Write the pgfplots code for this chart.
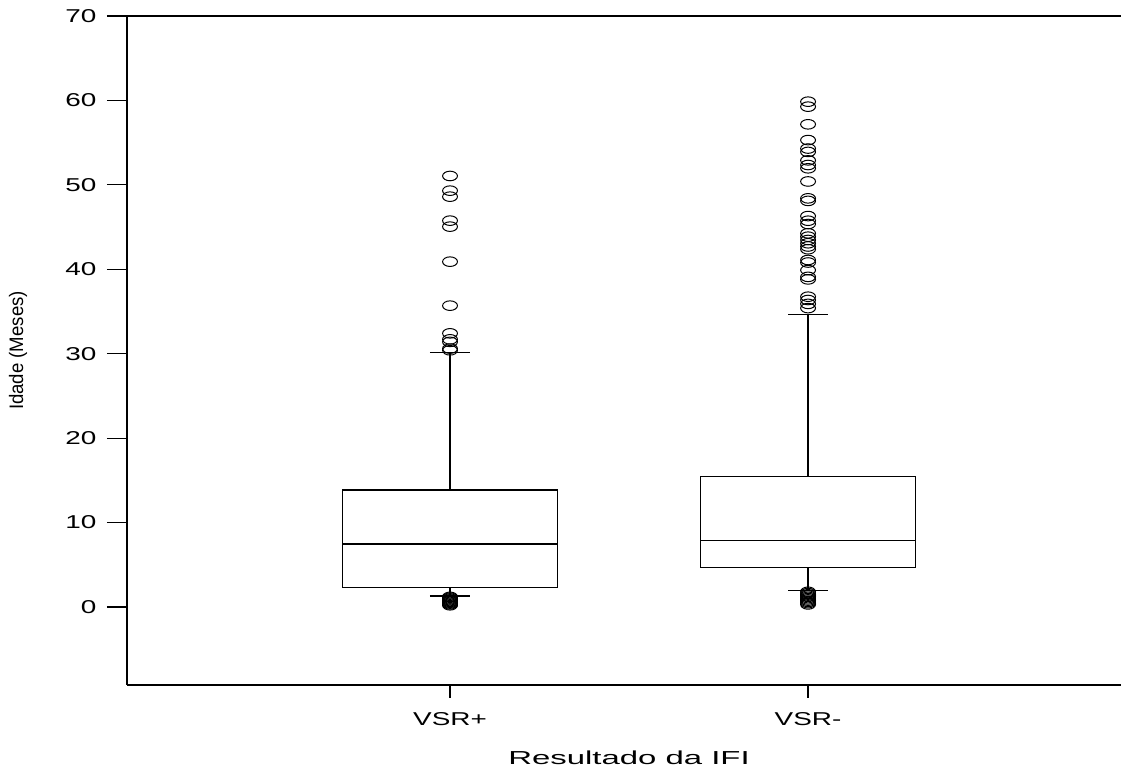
\documentclass[border=0pt]{standalone}
\usepackage{fontspec}
\setmainfont{Liberation Sans}
\usepackage{pgfplots}
\pgfplotsset{compat=1.18}
\usepgfplotslibrary{statistics}
\begin{document}
\begin{tikzpicture}
\useasboundingbox (-63.5pt,-42pt) rectangle (497pt,342.5pt);
\begin{axis}[
  scale only axis,
  width=497pt, height=334.5pt,
  xmin=0.0978, xmax=2.874,
  ymin=-9.24, ymax=70,
  axis x line=box, axis y line=left,
  axis line style={-, line width=0.75pt},
  xtick={1,2}, xticklabels={VSR+,VSR-},
  ytick={0,10,...,70},
  xtick pos=left, ytick pos=left,
  tick align=outside,
  major tick length=10pt,
  xtick style={/pgfplots/major tick length=6.5pt},
  tick style={line width=0.6pt, black},
  /pgf/number format/assume math mode=true,
  tick label style={font=\fontsize{9.3}{10}\selectfont, xscale=1.5},
  xlabel={Resultado da IFI},
  xlabel style={at={(axis description cs:0.5,0)}, anchor=base, yshift=-40pt, xshift=2.5pt, font=\fontsize{9.4}{10}\selectfont, xscale=1.75},
  ylabel={\scalebox{1}[1.05]{Idade (Meses)}},
  ylabel style={at={(axis description cs:-0.1097,0.5)}, anchor=center, font=\fontsize{9.3}{10}\selectfont},
  boxplot/draw direction=y,
  clip=false,
]
\addplot[black, line width=0.6pt, mark=o, mark size=2.4pt, mark options={xscale=1.55, line width=0.5pt, solid},
  boxplot prepared={median=7.46, upper quartile=13.86, lower quartile=2.29,
    upper whisker=30.16, lower whisker=1.3, draw position=1, box extend=0.6, whisker extend=0.112}]
  table[row sep=\\, y index=0] {
51.05\\ 49.31\\ 48.6\\ 45.76\\ 45.05\\ 40.9\\ 35.69\\ 32.41\\ 31.7\\ 31.4\\ 30.6\\ 30.4\\
1.2\\ 1.1\\ 1.0\\ 0.9\\ 0.8\\ 0.7\\ 0.6\\ 0.5\\ 0.4\\ 0.3\\ 0.2\\
};
\addplot[black, line width=0.6pt, mark=o, mark size=2.4pt, mark options={xscale=1.55, line width=0.5pt, solid},
  boxplot prepared={median=7.9, upper quartile=15.5, lower quartile=4.66,
    upper whisker=34.67, lower whisker=1.93, draw position=2, box extend=0.6, whisker extend=0.112}]
  table[row sep=\\, y index=0] {
59.85\\ 59.26\\ 57.17\\ 55.3\\ 54.3\\ 53.9\\ 52.9\\ 52.35\\ 51.96\\ 50.4\\ 48.4\\ 48.1\\
46.3\\ 45.75\\ 45.36\\ 44.26\\ 43.86\\ 43.47\\ 43.08\\ 42.7\\ 42.37\\ 41.1\\ 40.8\\ 39.9\\
39.1\\ 38.8\\ 36.75\\ 36.36\\ 35.9\\ 35.4\\
1.8\\ 1.65\\ 1.5\\ 1.35\\ 1.2\\ 1.05\\ 0.9\\ 0.75\\ 0.6\\ 0.45\\ 0.3\\
};
\end{axis}
\end{tikzpicture}
\end{document}
